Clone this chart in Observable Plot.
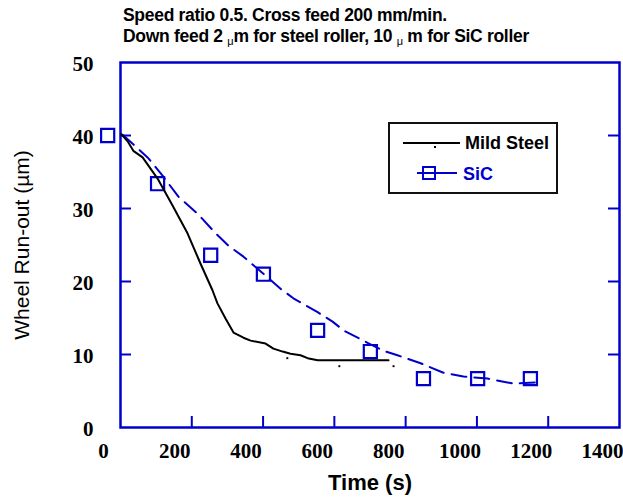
<!DOCTYPE html>
<html>
<head>
<meta charset="utf-8">
<script src="https://cdn.jsdelivr.net/npm/d3@7"></script>
<script src="https://cdn.jsdelivr.net/npm/@observablehq/plot@0.6"></script>
<style>
  html, body { margin: 0; padding: 0; background: #fff; }
  #wrap { position: relative; width: 623px; height: 498px; overflow: hidden; font-family: "Liberation Sans", Arial, sans-serif; }
  #title { position: absolute; left: 123px; top: 5px; font-weight: bold; font-size: 17.5px; line-height: 21px; color: #000; white-space: nowrap; letter-spacing: -0.3px; }
  .mu { font-size: 11px; font-weight: normal; vertical-align: -3px; }
  #legend { position: absolute; left: 388px; top: 122px; }
  #chart { position: absolute; left: 0; top: 0; }
</style>
</head>
<body>
<div id="wrap">
  <div id="chart"></div>
  <div id="title">Speed ratio 0.5. Cross feed 200 mm/min.<br>Down feed 2 <span class="mu">μ</span>m for steel roller, 10 <span class="mu">μ</span> m for SiC roller</div>
  <svg id="legend" width="172" height="74" xmlns="http://www.w3.org/2000/svg">
    <rect x="1" y="1" width="168" height="70" fill="#fff" stroke="#111" stroke-width="2"></rect>
    <line x1="15" y1="21" x2="72" y2="21" stroke="#000" stroke-width="2"></line>
    <rect x="46" y="24" width="2" height="2" fill="#000"></rect>
    <text x="77" y="27" font-family="Liberation Sans" font-weight="bold" font-size="18" fill="#000">Mild Steel</text>
    <line x1="29" y1="51" x2="69" y2="51" stroke="#0000cc" stroke-width="2"></line>
    <rect x="35" y="45" width="12" height="12" fill="none" stroke="#0000cc" stroke-width="2"></rect>
    <text x="75" y="58" font-family="Liberation Sans" font-weight="bold" font-size="18" fill="#0000cc">SiC</text>
  </svg>
</div>
<script>
// ---- data ----
const steelTime = [2, 20, 36, 62, 104, 146, 188, 224, 258, 272, 295, 317, 345, 365, 407, 429, 455, 477, 505, 525, 553, 752];
const steelRunout = [40.2, 39.2, 37.9, 37.0, 34.1, 30.4, 26.6, 22.5, 18.8, 17.0, 14.9, 13.0, 12.3, 11.9, 11.5, 10.8, 10.4, 10.1, 9.9, 9.5, 9.2, 9.2];

const steelMarkTime = [468, 614, 766];
const steelMarkRunout = [9.5, 8.4, 8.4];

const sicCurveTime = [6, 76, 118, 163, 216, 267, 303, 345, 407, 449, 485, 553, 595, 626, 693, 738, 777, 842, 906, 962, 1030, 1103, 1178];
const sicCurveRunout = [40.1, 37.0, 34.5, 31.6, 29.3, 26.6, 24.9, 23.4, 20.8, 19.0, 17.7, 15.8, 14.5, 13.3, 11.6, 10.5, 9.9, 8.8, 7.5, 7.0, 6.7, 6.0, 6.2];

const sicPointTime = [-36, 104, 253, 401, 553, 701, 850, 1002, 1150];
const sicPointRunout = [40.0, 33.4, 23.6, 21.0, 13.3, 10.4, 6.7, 6.7, 6.7];

const xTicks = [0, 200, 400, 600, 800, 1000, 1200, 1400];
const yTicks = [0, 10, 20, 30, 40, 50];
const xInnerTicks = [200, 400, 600, 800, 1000, 1200];
const yInnerTicks = [10, 20, 30, 40];

// ---- build tables ----
const steel = steelTime.map((t, i) => ({t, v: steelRunout[i]}));
const steelMarks = steelMarkTime.map((t, i) => ({t, v: steelMarkRunout[i]}));
const sicCurve = sicCurveTime.map((t, i) => ({t, v: sicCurveRunout[i]}));
const sicPts = sicPointTime.map((t, i) => ({t, v: sicPointRunout[i]}));

const BLUE = "#0000cc";
const W = 623, H = 498, ML = 120, MR = 4, MT = 62, MB = 71;
const FW = W - ML - MR, FH = H - MT - MB;
const SERIF = "Liberation Serif, Times New Roman, serif";

const chart = Plot.plot({
  width: W, height: H,
  marginLeft: ML, marginRight: MR, marginTop: MT, marginBottom: MB,
  style: {background: "transparent", fontFamily: "Liberation Sans, Arial, sans-serif", color: "#000"},
  x: {domain: [0, 1400], axis: null},
  y: {domain: [0, 50], axis: null},
  marks: [
    // inward ticks
    Plot.tickY(yInnerTicks, {y: d => d, stroke: BLUE, strokeWidth: 2, insetRight: FW - 11}),
    Plot.tickY(yInnerTicks, {y: d => d, stroke: BLUE, strokeWidth: 2, insetLeft: FW - 11}),
    Plot.tickX(xInnerTicks, {x: d => d, stroke: BLUE, strokeWidth: 2, insetTop: FH - 11}),
    Plot.frame({stroke: BLUE, strokeWidth: 2.5}),
    // tick labels
    Plot.axisX(xTicks, {anchor: "bottom", tickSize: 0, tickPadding: 16, dx: -17, tickFormat: d => String(d), fontSize: 21, fontWeight: "bold", fontFamily: SERIF, fill: "#000", label: null}),
    Plot.axisY(yTicks, {anchor: "left", tickSize: 0, tickPadding: 27, dy: 2, tickFormat: d => String(d), fontSize: 21, fontWeight: "bold", fontFamily: SERIF, fill: "#000", label: null}),
    // axis titles
    Plot.text(["Time (s)"], {frameAnchor: "bottom", textAnchor: "middle", lineAnchor: "middle", dy: 55, fontSize: 22, fontWeight: "bold", fill: "#000"}),
    Plot.text(["Wheel Run-out (µm)"], {frameAnchor: "left", textAnchor: "middle", lineAnchor: "middle", rotate: -90, dx: -98, fontSize: 21, fill: "#000"}),
    // data
    Plot.line(sicCurve, {x: "t", y: "v", stroke: BLUE, strokeWidth: 2, strokeDasharray: "15,8", curve: "linear"}),
    Plot.dot(sicPts, {x: "t", y: "v", symbol: "square", r: 7.4, stroke: BLUE, strokeWidth: 2.2, fill: "none"}),
    Plot.line(steel, {x: "t", y: "v", stroke: "#000", strokeWidth: 2, curve: "linear"}),
    Plot.dot(steelMarks, {x: "t", y: "v", symbol: "square", r: 1.1, fill: "#000", stroke: "none"})
  ]
});
document.getElementById("chart").appendChild(chart);
</script>
</body>
</html>
